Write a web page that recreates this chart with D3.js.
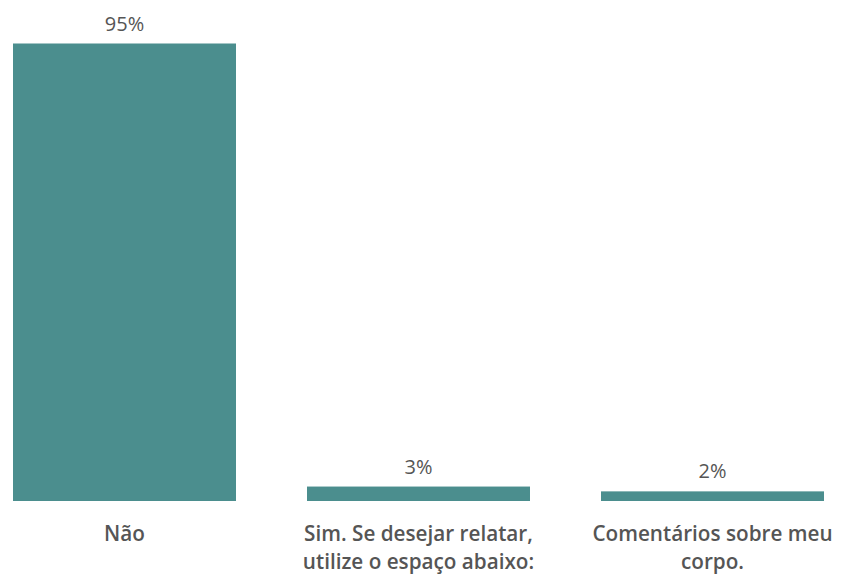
<!DOCTYPE html>
<html>
<head>
<meta charset="utf-8">
<script src="https://cdn.jsdelivr.net/npm/d3@7"></script>
<style>
  html, body { margin: 0; padding: 0; background: #fff; }
  svg { display: block; }
</style>
</head>
<body>
<svg id="chart" width="846" height="574"></svg>
<script>
// Response categories (each may wrap onto two lines)
const categories = [
  ["Não"],
  ["Sim. Se desejar relatar,", "utilize o espaço abaixo:"],
  ["Comentários sobre meu", "corpo."]
];
// Share of respondents, in percent
const values = [95, 3, 2];
const valueLabels = ["95%", "3%", "2%"];

(function () {
  const baseline = 501, plotTop = 43.5;
  const barColor = "#4b8e8e";
  const textColor = "#555555";
  const font = "'Open Sans', 'DejaVu Sans', sans-serif";

  const svg = d3.select("#chart");

  const x = d3.scaleBand()
    .domain(d3.range(values.length))
    .range([-22.5, 859.5])
    .paddingInner(0.2415)
    .paddingOuter(0.12075);

  const y = d3.scaleLinear()
    .domain([0, 95])
    .range([baseline, plotTop]);

  const g = svg.append("g");

  g.selectAll("rect.bar")
    .data(values)
    .join("rect")
    .attr("class", "bar")
    .attr("x", (d, i) => x(i))
    .attr("width", x.bandwidth())
    .attr("y", d => y(d))
    .attr("height", d => baseline - y(d))
    .attr("fill", barColor);

  g.selectAll("text.value")
    .data(values)
    .join("text")
    .attr("class", "value")
    .attr("x", (d, i) => x(i) + x.bandwidth() / 2)
    .attr("y", d => y(d) - 13)
    .attr("text-anchor", "middle")
    .attr("font-family", font)
    .attr("font-size", 20)
    .attr("fill", textColor)
    .text((d, i) => valueLabels[i]);

  const cat = g.selectAll("text.cat")
    .data(categories)
    .join("text")
    .attr("class", "cat")
    .attr("x", (d, i) => x(i) + x.bandwidth() / 2)
    .attr("y", 541)
    .attr("text-anchor", "middle")
    .attr("font-family", font)
    .attr("font-size", 20.7)
    .attr("font-weight", 600)
    .attr("fill", textColor);

  cat.selectAll("tspan")
    .data(d => d)
    .join("tspan")
    .attr("x", function () { return d3.select(this.parentNode).attr("x"); })
    .attr("dy", (d, j) => j === 0 ? 0 : 28)
    .text(d => d);
})();
</script>
</body>
</html>
